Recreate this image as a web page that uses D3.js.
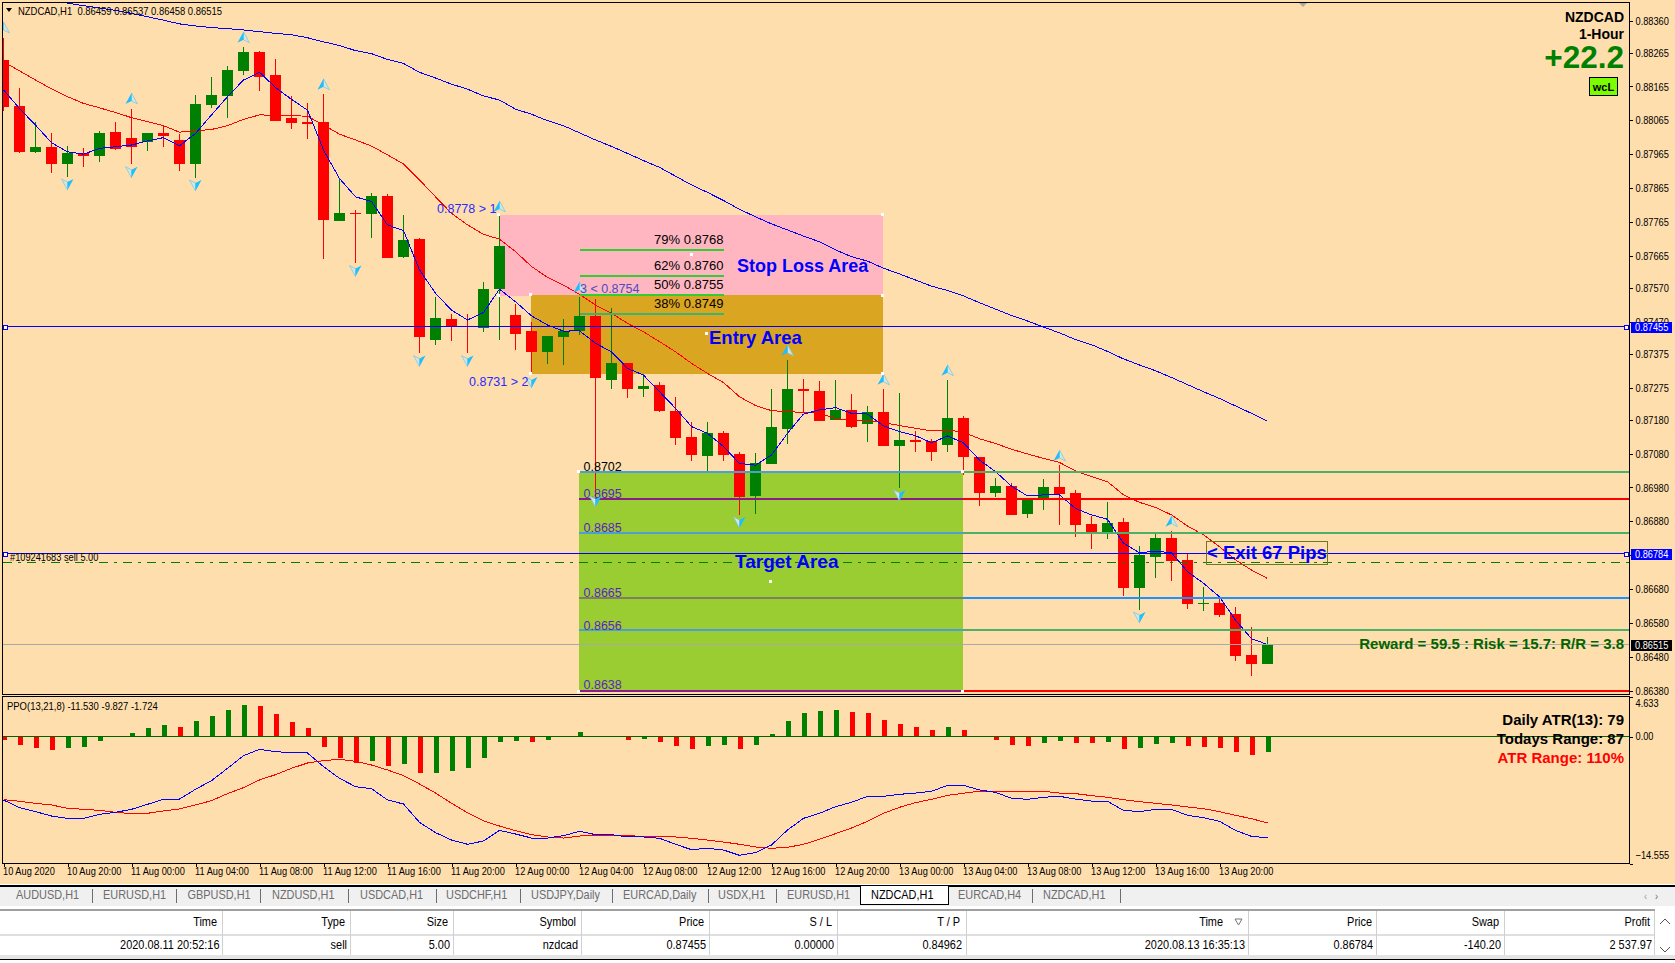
<!DOCTYPE html>
<html>
<head>
<meta charset="utf-8">
<title>NZDCAD,H1</title>
<script src="https://cdn.jsdelivr.net/npm/d3@7"></script>
<style>
    html, body { margin: 0; padding: 0; background: #fff; overflow: hidden; }
    svg { display: block; }
    text { font-family: "Liberation Sans", Arial, sans-serif; font-size: 11px; fill: #000; }
    .axis path { display: none; }
    .axis line { stroke: #000; shape-rendering: crispEdges; }
</style>
</head>
<body>
<div id="chart"></div>
<script>
// candles, one per hour
const opens = [
    .88243, .88107, .87972, .87986, .87937, .87968, .87960, .88030, .88013, .88002,
    .88027, .88007, .87937, .88111, .88137, .88212, .88267, .88199, .88072, .88060,
    .88060, .87768, .87792, .87789, .87841, .87662, .87714, .87417, .87478, .87457,
    .87450, .87568, .87490, .87442, .87380, .87425, .87442, .87487, .87298, .87348,
    .87271, .87283, .87206, .87129, .87073, .87141, .87079, .86955, .87049, .87153,
    .87271, .87265, .87179, .87209, .87168, .87203, .87103, .87120, .87117, .87106,
    .87185, .87070, .86964, .86984, .86902, .86949, .86981, .86964, .86872, .86848,
    .86878, .86683, .86775, .86831, .86766, .86636, .86639, .86606, .86485, .86459
];
const highs = [
    .88309, .88161, .88061, .88028, .87989, .87982, .88033, .88060, .88098, .88027,
    .88047, .88024, .88140, .88193, .88226, .88283, .88270, .88246, .88137, .88116,
    .88143, .87895, .87800, .87850, .87847, .87785, .87716, .87543, .87493, .87493,
    .87587, .87785, .87522, .87469, .87428, .87478, .87544, .87537, .87511, .87348,
    .87315, .87292, .87247, .87174, .87174, .87147, .87085, .87082, .87271, .87357,
    .87301, .87295, .87298, .87256, .87221, .87271, .87259, .87147, .87123, .87298,
    .87191, .87070, .87008, .86993, .86949, .87005, .87046, .86973, .86896, .86937,
    .86890, .86807, .86843, .86851, .86783, .86686, .86656, .86627, .86568, .86537
];
const lows = [
    .88094, .87967, .87967, .87910, .87898, .87928, .87943, .87976, .87937, .87975,
    .87987, .87916, .87895, .88102, .88071, .88199, .88153, .88064, .88040, .88010,
    .87656, .87768, .87644, .87718, .87657, .87659, .87378, .87402, .87414, .87378,
    .87440, .87417, .87387, .87317, .87345, .87342, .87431, .86953, .87271, .87244,
    .87247, .87203, .87106, .87058, .87023, .87058, .86899, .86902, .87049, .87109,
    .87203, .87176, .87179, .87156, .87114, .87103, .86979, .87085, .87058, .87085,
    .87017, .86925, .86952, .86899, .86890, .86913, .86869, .86834, .86798, .86828,
    .86659, .86618, .86713, .86704, .86621, .86615, .86597, .86467, .86423, .86458
];
const closes = [
    .88105, .87972, .87986, .87937, .87968, .87960, .88027, .87981, .87987, .88027,
    .88019, .87937, .88113, .88140, .88214, .88267, .88194, .88064, .88057, .88055,
    .87771, .87791, .87790, .87841, .87659, .87711, .87426, .87481, .87458, .87453,
    .87567, .87694, .87435, .87380, .87428, .87442, .87487, .87304, .87348, .87271,
    .87280, .87206, .87126, .87076, .87141, .87076, .86952, .87052, .87159, .87271,
    .87265, .87176, .87209, .87159, .87203, .87103, .87120, .87114, .87085, .87185,
    .87070, .86964, .86984, .86899, .86949, .86981, .86961, .86869, .86848, .86875,
    .86683, .86781, .86831, .86763, .86636, .86639, .86603, .86482, .86458, .86515
];

// moving averages on the price panel
const fastMA = [
    .88155, .88100, .88051, .87999, .87972, .87965, .87982, .87987, .87992, .88004,
    .88014, .87990, .88026, .88081, .88135, .88184, .88207, .88162, .88127, .88095,
    .87977, .87893, .87839, .87825, .87756, .87739, .87623, .87554, .87504, .87475,
    .87497, .87566, .87529, .87487, .87460, .87442, .87443, .87406, .87381, .87332,
    .87312, .87263, .87214, .87160, .87140, .87101, .87051, .87046, .87076, .87140,
    .87197, .87209, .87216, .87199, .87197, .87162, .87145, .87133, .87112, .87132,
    .87112, .87061, .87027, .86984, .86955, .86958, .86958, .86918, .86899, .86886,
    .86815, .86787, .86792, .86787, .86731, .86697, .86657, .86588, .86533, .86516
];
const midMA = [
    .88238, .88211, .88184, .88158, .88135, .88115, .88102, .88088, .88073, .88061,
    .88049, .88030, .88034, .88038, .88049, .88068, .88081, .88080, .88079, .88077,
    .88051, .88024, .88007, .87989, .87963, .87936, .87889, .87839, .87790, .87756,
    .87728, .87714, .87677, .87633, .87601, .87578, .87551, .87519, .87495, .87465,
    .87440, .87411, .87381, .87347, .87317, .87290, .87248, .87222, .87207, .87204,
    .87202, .87199, .87184, .87179, .87176, .87172, .87163, .87155, .87147, .87150,
    .87143, .87124, .87110, .87093, .87079, .87066, .87054, .87029, .87012, .86997,
    .86958, .86936, .86921, .86899, .86866, .86840, .86805, .86766, .86736, .86711
];
// slow average only comes into the panel at bar 4
const slowMAStart = 4;
const slowMA = [
    .88411, .88404, .88397, .88390, .88381, .88371, .88361, .88350, .88344, .88339,
    .88336, .88332, .88327, .88322, .88318, .88309, .88297, .88286, .88271, .88262,
    .88245, .88233, .88207, .88190, .88172, .88157, .88137, .88125, .88098, .88083,
    .88064, .88049, .88028, .88007, .87988, .87967, .87946, .87926, .87900, .87874,
    .87852, .87828, .87802, .87780, .87759, .87741, .87723, .87706, .87682, .87662,
    .87649, .87628, .87611, .87593, .87575, .87562, .87546, .87526, .87507, .87488,
    .87472, .87454, .87437, .87417, .87402, .87382, .87360, .87342, .87325, .87305,
    .87284, .87263, .87243, .87221, .87199, .87176
];

// swing arrows
const swingUpBars = [0, 8, 15, 20, 31, 36, 49, 55, 59, 66, 73];
const swingUpPrices = [.88338, .88128, .88309, .88170, .87809, .87570, .87384, .87298, .87325, .87073, .86879];
const swingDownBars = [4, 8, 12, 22, 26, 29, 33, 37, 46, 56, 71];
const swingDownPrices = [.87877, .87913, .87874, .87621, .87355, .87355, .87292, .86940, .86878, .86958, .86597];

// PPO panel
const ppoHist = [
    -0.31, -0.88, -1.23, -1.46, -1.23, -1.11, -0.42, 0, 0.50, 1.07,
    1.42, 1.19, 1.88, 2.45, 3.14, 3.72, 3.60, 2.68, 1.76, 1.07,
    -1.11, -2.37, -2.95, -2.72, -3.29, -3.06, -4.10, -4.10, -3.87, -3.52,
    -2.37, -0.54, -0.42, -0.54, -0.31, 0.15, 0.61, 0, 0, -0.31,
    -0.19, -0.54, -1.00, -1.34, -1.00, -0.88, -1.34, -0.88, 0.38, 1.88,
    2.80, 3.03, 3.14, 2.91, 2.80, 1.99, 1.53, 1.19, 0.84, 1.19,
    0.84, 0.15, -0.31, -0.88, -1.00, -0.65, -0.42, -0.65, -0.65, -0.54,
    -1.34, -1.23, -0.77, -0.65, -1.00, -1.11, -1.23, -1.69, -2.03, -1.72
];
const ppoHistUp = [
    0, 0, 0, 0, 1, 1, 1, 1, 1, 1,
    1, 0, 1, 1, 1, 1, 0, 0, 0, 0,
    0, 0, 0, 1, 0, 1, 0, 1, 1, 1,
    1, 1, 1, 0, 1, 1, 1, 1, 1, 0,
    1, 0, 0, 0, 1, 1, 0, 1, 1, 1,
    1, 1, 1, 0, 0, 0, 0, 0, 0, 1,
    0, 0, 0, 0, 0, 1, 1, 0, 0, 1,
    0, 1, 1, 1, 0, 0, 0, 0, 0, 1
];
const ppoFast = [
    -7.20, -8.08, -8.54, -9.04, -9.31, -9.31, -8.85, -8.62, -8.27, -7.70,
    -7.12, -7.09, -5.97, -4.98, -3.56, -2.11, -1.38, -1.65, -1.76, -1.80,
    -3.37, -4.71, -5.67, -5.90, -7.20, -7.66, -9.77, -10.95, -11.80, -12.29,
    -11.91, -10.69, -11.11, -11.57, -11.57, -11.30, -10.80, -11.18, -11.18, -11.45,
    -11.45, -11.60, -12.29, -12.91, -12.75, -12.95, -13.56, -13.25, -12.37, -10.65,
    -9.31, -8.73, -7.97, -7.47, -6.78, -6.78, -6.55, -6.40, -6.20, -5.52,
    -5.52, -6.05, -6.32, -7.01, -7.12, -6.89, -6.78, -7.09, -7.32, -7.35,
    -8.39, -8.54, -8.27, -8.27, -8.96, -9.23, -9.65, -10.69, -11.38, -11.53
];
const ppoSlow = [
    -7.16, -7.35, -7.58, -7.77, -8.16, -8.27, -8.39, -8.62, -8.77, -8.73,
    -8.46, -8.23, -7.77, -7.28, -6.47, -5.78, -4.90, -4.29, -3.56, -2.95,
    -2.68, -2.53, -2.76, -3.18, -3.75, -4.40, -5.36, -6.40, -7.58, -8.66,
    -9.61, -10.19, -10.72, -11.18, -11.45, -11.57, -11.34, -11.26, -11.26, -11.30,
    -11.38, -11.38, -11.45, -11.60, -11.80, -12.03, -12.29, -12.60, -12.75, -12.64,
    -12.29, -11.72, -11.07, -10.42, -9.65, -8.73, -8.04, -7.51, -7.12, -6.66,
    -6.43, -6.17, -6.20, -6.20, -6.20, -6.20, -6.40, -6.47, -6.70, -6.89,
    -7.16, -7.39, -7.58, -7.77, -8.00, -8.20, -8.54, -8.96, -9.35, -9.83
];

// axis labels
const priceTicks = [
    0.88360, 0.88265, 0.88165, 0.88065, 0.87965, 0.87865, 0.87765, 0.87665, 0.87570, 0.87470, 0.87375,
    0.87275, 0.87180, 0.87080, 0.86980, 0.86880, 0.86780, 0.86680, 0.86580, 0.86480, 0.86380
];
const ppoTicks = [4.633, 0, -14.555];
const timeLabels = [
    "10 Aug 2020", "10 Aug 20:00", "11 Aug 00:00", "11 Aug 04:00", "11 Aug 08:00", "11 Aug 12:00", "11 Aug 16:00",
    "11 Aug 20:00", "12 Aug 00:00", "12 Aug 04:00", "12 Aug 08:00", "12 Aug 12:00", "12 Aug 16:00", "12 Aug 20:00",
    "13 Aug 00:00", "13 Aug 04:00", "13 Aug 08:00", "13 Aug 12:00", "13 Aug 16:00", "13 Aug 20:00"
];

// drawn levels
const tradeEntry = 0.87455, tradeExit = 0.86784, tradeOrder = 0.86759, lastPrice = 0.86515;
const fibLabels = ["79% 0.8768", "62% 0.8760", "50% 0.8755", "38% 0.8749"];
const fibPrices = [.87682, .87606, .87550, .87494];
const targetLabels = ["0.8702", "0.8695", "0.8685", "0.8665", "0.8656", "0.8638"];
const targetPrices = [.87026, .86947, .86846, .86654, .86559, .86379];

// bottom strip
const tabLabels = ["AUDUSD,H1", "EURUSD,H1", "GBPUSD,H1", "NZDUSD,H1", "USDCAD,H1", "USDCHF,H1", "USDJPY,Daily", "EURCAD,Daily", "USDX,H1", "EURUSD,H1", "NZDCAD,H1", "EURCAD,H4", "NZDCAD,H1"];
const tableHeaders = ["Time", "Type", "Size", "Symbol", "Price", "S / L", "T / P", "Time", "Price", "Swap", "Profit"];
const tableRow = ["2020.08.11 20:52:16", "sell", "5.00", "nzdcad", "0.87455", "0.00000", "0.84962", "2020.08.13 16:35:13", "0.86784", "-140.20", "2 537.97"];

const WIDTH = 1675, HEIGHT = 963;
const BG = "#FFDEAD", UP = "#008000", DOWN = "#FF0000", BLUE = "#0000FF";
const panelLeft = 2.5, panelRight = 1629.5;

const svg = d3.select("#chart").append("svg")
    .attr("width", WIDTH)
    .attr("height", HEIGHT);

svg.append("rect")
    .attr("width", WIDTH).attr("height", 884)
    .attr("fill", BG);

// scales
const x = d3.scaleLinear().domain([0, 79]).range([3.5, 1267.5]);
const y = d3.scaleLinear().domain([0.8638, 0.8836]).range([690.5, 20.5]);
const yPPO = d3.scaleLinear().domain([-14.555, 4.633]).range([864, 697]);

const defs = svg.append("defs");
defs.append("clipPath").attr("id", "clipMain").append("rect")
    .attr("x", panelLeft).attr("y", 2.5).attr("width", panelRight - panelLeft).attr("height", 692);
defs.append("clipPath").attr("id", "clipPPO").append("rect")
    .attr("x", panelLeft).attr("y", 696.5).attr("width", panelRight - panelLeft).attr("height", 167);

const main = svg.append("g").attr("clip-path", "url(#clipMain)");

// shaded zones
function zone(barA, barB, priceTop, priceBottom, color) {
    main.append("rect")
        .attr("x", x(barA) - 0.5)
        .attr("y", y(priceTop))
        .attr("width", x(barB) - x(barA))
        .attr("height", y(priceBottom) - y(priceTop))
        .attr("fill", color)
        .attr("shape-rendering", "crispEdges");
}
zone(31, 55, .87785, .87546, "#FFB6C1");
zone(33, 55, .87550, .87316, "#DAA520");
zone(36, 60, .87026, .86379, "#9ACD32");

// candles
const bars = d3.range(80);
const barColor = i => closes[i] >= opens[i] ? UP : DOWN;

main.selectAll(".wick").data(bars).enter().append("line")
    .attr("class", "wick")
    .attr("x1", i => x(i)).attr("x2", i => x(i))
    .attr("y1", i => y(highs[i])).attr("y2", i => y(lows[i]))
    .attr("stroke", barColor)
    .attr("shape-rendering", "crispEdges");

main.selectAll(".body").data(bars).enter().append("rect")
    .attr("class", "body")
    .attr("x", i => x(i) - 5.5)
    .attr("width", 11)
    .attr("y", i => y(Math.max(opens[i], closes[i])))
    .attr("height", i => Math.max(1, Math.abs(y(opens[i]) - y(closes[i]))))
    .attr("fill", barColor)
    .attr("shape-rendering", "crispEdges");

// moving averages
const priceLine = d3.line().x(d => x(d.bar)).y(d => y(d.price));
function drawMA(values, start, color) {
    main.append("path")
        .datum(values.map((v, i) => ({ bar: i + start, price: v })))
        .attr("d", priceLine)
        .attr("fill", "none")
        .attr("stroke", color)
        .attr("stroke-width", 1)
        .attr("shape-rendering", "crispEdges");
}
drawMA(slowMA, slowMAStart, BLUE);
drawMA(midMA, 0, DOWN);
drawMA(fastMA, 0, BLUE);

// fibonacci segments above the entry
const fibColors = ["#32CD32", "#32CD32", "#32CD32", "#3CB371"];
fibPrices.forEach((p, i) => {
    main.append("line")
        .attr("x1", x(36)).attr("x2", x(45))
        .attr("y1", y(p)).attr("y2", y(p))
        .attr("stroke", fibColors[i])
        .attr("stroke-width", 2)
        .attr("shape-rendering", "crispEdges");
    main.append("text")
        .attr("class", "wide")
        .attr("x", x(45))
        .attr("y", y(p) - 5.5)
        .attr("text-anchor", "end")
        .style("font-size", "13px")
        .text(fibLabels[i]);
});

// target levels, coloured differently inside and right of the green zone
const levelInside = ["#4B9FD5", "#8B1A8B", "#4B9FD5", "#808060", "#4B9FD5", "#8B1A8B"];
const levelOutside = ["#4CAF6A", "#FF0000", "#4CAF6A", "#1E90FF", "#4CAF6A", "#FF0000"];
const targetLabelLift = [1, 0.5, 0.5, 0.5, 0, 1.5];
targetPrices.forEach((p, i) => {
    main.append("line")
        .attr("x1", x(60) - 0.5).attr("x2", panelRight)
        .attr("y1", y(p)).attr("y2", y(p))
        .attr("stroke", levelOutside[i]).attr("stroke-width", 2)
        .attr("shape-rendering", "crispEdges");
    main.append("line")
        .attr("x1", x(36) - 0.5).attr("x2", x(60) - 0.5)
        .attr("y1", y(p)).attr("y2", y(p))
        .attr("stroke", levelInside[i]).attr("stroke-width", 2)
        .attr("shape-rendering", "crispEdges");
    main.append("text")
        .attr("class", "wide")
        .attr("x", x(36) + 4)
        .attr("y", y(p) - targetLabelLift[i])
        .style("fill", i == 0 ? "#000" : "#5B1FC0")
        .style("font-size", "12.5px")
        .text(targetLabels[i]);
});

// trade lines
[tradeEntry, tradeExit].forEach(p => {
    main.append("line")
        .attr("x1", panelLeft).attr("x2", panelRight)
        .attr("y1", y(p)).attr("y2", y(p))
        .attr("stroke", BLUE)
        .attr("shape-rendering", "crispEdges");
    [5, 1626].forEach(hx => {
        main.append("rect")
            .attr("x", hx - 2).attr("y", Math.round(y(p)) - 2)
            .attr("width", 4).attr("height", 4)
            .attr("fill", "#fff").attr("stroke", BLUE)
            .attr("shape-rendering", "crispEdges");
    });
});
main.append("line")
    .attr("x1", panelLeft).attr("x2", panelRight)
    .attr("y1", y(tradeOrder)).attr("y2", y(tradeOrder))
    .attr("stroke", "#008000")
    .attr("stroke-dasharray", "9,6,3,6")
    .attr("shape-rendering", "crispEdges");
main.append("line")
    .attr("x1", panelLeft).attr("x2", panelRight)
    .attr("y1", y(lastPrice)).attr("y2", y(lastPrice))
    .attr("stroke", "#A9A9A9")
    .attr("shape-rendering", "crispEdges");

// swing arrows, bright half on the left when pointing up
function drawArrows(barsList, prices, rotate) {
    const g = main.selectAll(null).data(barsList).enter().append("g")
        .attr("transform", (b, i) => `translate(${x(b)},${y(prices[i])}) rotate(${rotate})`);
    g.append("path").attr("d", "M0,-6L6,5L0,2Z").attr("fill", "#CFE8E4").attr("stroke", "#86C6DA").attr("stroke-width", 0.8);
    g.append("path").attr("d", "M0,-6L-6,5L0,2Z").attr("fill", "#1EBEFF");
}
drawArrows(swingUpBars, swingUpPrices, 0);
drawArrows(swingDownBars, swingDownPrices, 180);

// object handles
const handles = [
    [499, 215], [883, 215], [883, 296], [499, 296], [531, 295], [531, 374], [883, 374],
    [579, 472], [963, 472], [579, 692], [963, 692], [692, 255], [707, 334], [771, 582]
];
main.selectAll(".handle").data(handles).enter().append("rect")
    .attr("class", "handle")
    .attr("x", d => d[0] - 2).attr("y", d => d[1] - 2)
    .attr("width", 3).attr("height", 3)
    .attr("fill", "#fff")
    .attr("shape-rendering", "crispEdges");

// annotations on the price panel
function label(parent, txt, px, py, size, color, anchor, bold) {
    return parent.append("text")
        .attr("class", "wide")
        .attr("x", px).attr("y", py)
        .attr("text-anchor", anchor || "start")
        .style("fill", color || "#000")
        .style("font-size", size + "px")
        .style("font-weight", bold ? "bold" : "normal")
        .text(txt);
}
label(svg, "Stop Loss Area", 737, 272, 18, BLUE, "start", true);
label(svg, "Entry Area", 709, 344, 18.5, BLUE, "start", true);
label(svg, "Target Area", 735, 567.5, 19, BLUE, "start", true);
label(svg, "0.8778 > 1", 437, 213, 12.5, "#2A2AFF");
label(svg, "3 < 0.8754", 580, 293, 12.5, "#4C4CC8");
label(svg, "0.8731 > 2", 469, 386, 12.5, "#2A2AFF");

svg.append("rect")
    .attr("x", 1206.5).attr("y", 541.5)
    .attr("width", 121).attr("height", 23)
    .attr("fill", "none").attr("stroke", "#6B7A1E")
    .attr("shape-rendering", "crispEdges");
label(svg, "< Exit 67 Pips", 1207, 558.5, 18.5, BLUE, "start", true);
label(svg, "Reward = 59.5 : Risk = 15.7: R/R = 3.8", 1624, 649, 15, "#006400", "end", true);

label(svg, "NZDCAD", 1624, 21.5, 14, "#000", "end", true);
label(svg, "1-Hour", 1624, 39, 14, "#000", "end", true);
label(svg, "+22.2", 1624, 68, 31.5, UP, "end", true);
svg.append("rect")
    .attr("x", 1589.5).attr("y", 77.5)
    .attr("width", 28).attr("height", 18)
    .attr("fill", "#7CFC00").attr("stroke", "#000")
    .attr("shape-rendering", "crispEdges");
label(svg, "wcL", 1603.5, 91, 11, "#000", "middle", true);

svg.append("path").attr("d", "M6,8L12,8L9,12Z").attr("fill", "#000");
svg.append("text").attr("class", "title").attr("x", 18).attr("y", 14.5).text("NZDCAD,H1\u00a0\u00a00.86459 0.86537 0.86458 0.86515");
svg.append("text").attr("x", 10).attr("y", 560.5).text("#109241683 sell 5.00");
svg.append("path").attr("d", "M1299,3L1307,3L1303,7Z").attr("fill", "#A9A9A9");

// price axis
const priceAxis = svg.append("g")
    .attr("class", "axis")
    .attr("transform", `translate(${panelRight},0)`)
    .call(d3.axisRight(y).tickValues(priceTicks).tickFormat(d3.format(".5f")).tickSize(3).tickPadding(3));
priceAxis.selectAll("text").style("font-size", "11px");

// live price tags
[[tradeEntry, BLUE], [tradeExit, BLUE], [lastPrice, "#000"]].forEach(t => {
    const py = Math.round(y(t[0]));
    svg.append("rect")
        .attr("x", 1631).attr("y", py - 5)
        .attr("width", 41).attr("height", 11)
        .attr("fill", t[1]);
    svg.append("text")
        .attr("x", 1635).attr("y", py + 4)
        .style("fill", "#fff")
        .text(d3.format(".5f")(t[0]));
});

// PPO panel
const ppo = svg.append("g").attr("clip-path", "url(#clipPPO)");
ppo.selectAll(".hist").data(bars).enter().append("rect")
    .attr("class", "hist")
    .attr("x", i => x(i) - 2)
    .attr("width", 5)
    .attr("y", i => Math.min(yPPO(0), yPPO(ppoHist[i])))
    .attr("height", i => Math.abs(yPPO(ppoHist[i]) - yPPO(0)))
    .attr("fill", i => ppoHistUp[i] ? UP : DOWN)
    .attr("shape-rendering", "crispEdges");
ppo.append("line")
    .attr("x1", panelLeft).attr("x2", panelRight)
    .attr("y1", yPPO(0) - 0.5).attr("y2", yPPO(0) - 0.5)
    .attr("stroke", "#006400")
    .attr("stroke-width", 1)
    .attr("shape-rendering", "crispEdges");

const ppoLine = d3.line().x((d, i) => x(i)).y(d => yPPO(d));
[[ppoSlow, DOWN], [ppoFast, BLUE]].forEach(s => {
    ppo.append("path")
        .datum(s[0])
        .attr("d", ppoLine)
        .attr("fill", "none")
        .attr("stroke", s[1])
        .attr("shape-rendering", "crispEdges");
});
svg.append("text").attr("class", "title").attr("x", 7).attr("y", 709.5).text("PPO(13,21,8) -11.530 -9.827 -1.724");
label(svg, "Daily ATR(13): 79", 1624, 724.5, 15, "#000", "end", true);
label(svg, "Todays Range: 87", 1624, 743.5, 15, "#000", "end", true);
label(svg, "ATR Range: 110%", 1624, 763, 15, DOWN, "end", true);

const ppoAxis = svg.append("g")
    .attr("class", "axis")
    .attr("transform", `translate(${panelRight},0)`)
    .call(d3.axisRight(yPPO).tickValues(ppoTicks).tickFormat(d => d == 0 ? "0.00" : d3.format(".3f")(d)).tickSize(3).tickPadding(3));
ppoAxis.selectAll("text")
    .attr("transform", d => d > 0 ? "translate(0,6)" : d < 0 ? "translate(0,-9)" : "translate(0,-1)");

// panel frames
[[2.5, 692], [696.5, 167]].forEach(f => {
    svg.append("rect")
        .attr("x", panelLeft).attr("y", f[0])
        .attr("width", panelRight - panelLeft).attr("height", f[1])
        .attr("fill", "none").attr("stroke", "#000")
        .attr("shape-rendering", "crispEdges");
});

// time axis
const timeAxis = svg.append("g")
    .attr("class", "axis")
    .attr("transform", "translate(0,863.5)")
    .call(d3.axisBottom(x).tickValues(d3.range(0, 80, 4)).tickFormat((d, i) => timeLabels[i]).tickSize(3).tickPadding(1));
timeAxis.selectAll("text").attr("text-anchor", "start").attr("dx", -1);

// tab strip
svg.append("rect").attr("y", 885).attr("width", WIDTH).attr("height", 2).attr("fill", "#000").attr("shape-rendering", "crispEdges");
svg.append("rect").attr("y", 887).attr("width", WIDTH).attr("height", 19).attr("fill", "#F0F0F0");
svg.append("rect")
    .attr("x", 860.5).attr("y", 885.5)
    .attr("width", 88).attr("height", 19)
    .attr("fill", "#fff").attr("stroke", "#000")
    .attr("shape-rendering", "crispEdges");

const tabLefts = [16, 103, 187.5, 272, 360, 446, 531, 623, 718, 787, 871, 958, 1043];
const tabSeps = [92.5, 176.5, 260.5, 348.5, 436.5, 520.5, 612.5, 708.5, 776.5, 1032.5, 1120.5];
tabLabels.forEach((t, i) => {
    svg.append("text")
        .attr("x", tabLefts[i]).attr("y", 899)
        .style("fill", i == 10 ? "#000" : "#6D6D6D")
        .style("font-size", "13px")
        .text(t);
});
tabSeps.forEach(s => {
    svg.append("line")
        .attr("x1", s).attr("x2", s).attr("y1", 889).attr("y2", 903)
        .attr("stroke", "#6D6D6D").attr("shape-rendering", "crispEdges");
});
svg.append("text").attr("x", 1644).attr("y", 900).style("fill", "#999").text("‹");
svg.append("text").attr("x", 1655).attr("y", 900).style("fill", "#666").text("›");

// trade history table
svg.append("rect").attr("y", 909).attr("width", 1655).attr("height", 2).attr("fill", "#A0A0A0");
svg.append("rect").attr("y", 934.5).attr("width", 1655).attr("height", 1).attr("fill", "#C0C0C0");
svg.append("rect").attr("y", 955).attr("width", WIDTH).attr("height", 4).attr("fill", "#E4E4E4");
svg.append("rect").attr("y", 959).attr("width", WIDTH).attr("height", 1).attr("fill", "#000");

const colRights = [217, 345, 448, 576, 704, 832, 960, 1223, 1372, 1499, 1650];
const rowRights = [219.5, 347, 450, 578, 706, 834, 962, 1245, 1373, 1501, 1652];
const colSeps = [222.5, 350.5, 453.5, 581.5, 709.5, 837.5, 966.5, 1248.5, 1376.5, 1504.5, 1654.5];
colSeps.forEach(s => {
    svg.append("line")
        .attr("x1", s).attr("x2", s).attr("y1", 911).attr("y2", 955)
        .attr("stroke", "#D0D0D0").attr("shape-rendering", "crispEdges");
});
tableHeaders.forEach((t, i) => {
    svg.append("text")
        .attr("x", colRights[i]).attr("y", 926)
        .attr("text-anchor", "end")
        .style("font-size", "13px")
        .text(t);
});
tableRow.forEach((t, i) => {
    svg.append("text")
        .attr("x", rowRights[i]).attr("y", 948.5)
        .attr("text-anchor", "end")
        .style("font-size", "13px")
        .text(t);
});
svg.append("path").attr("d", "M1235,919L1242,919L1238.5,925Z").attr("fill", "none").attr("stroke", "#777");
svg.append("path").attr("d", "M1660,924L1665,919L1670,924").attr("fill", "none").attr("stroke", "#555");
svg.append("path").attr("d", "M1660,947L1665,952L1670,947").attr("fill", "none").attr("stroke", "#555");

// the chart font is narrower than anything installed, so squeeze the small labels
svg.selectAll("text").filter(function() { return !this.classList.contains("wide"); })
    .each(function() {
        const ratio = this.classList.contains("title") ? 0.86 : 0.84;
        d3.select(this)
            .attr("textLength", this.getComputedTextLength() * ratio)
            .attr("lengthAdjust", "spacingAndGlyphs");
    });
</script>
</body>
</html>
